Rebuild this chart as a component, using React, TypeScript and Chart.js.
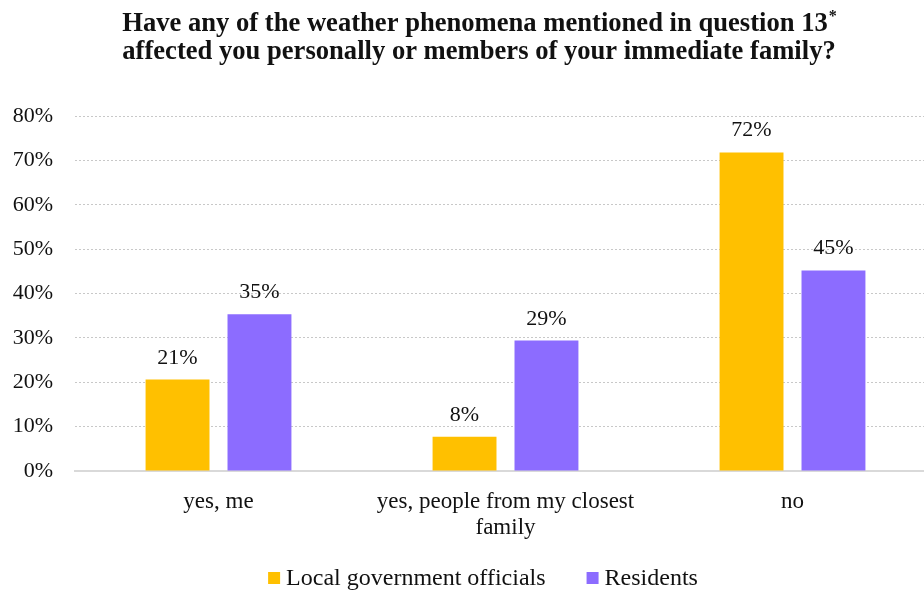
import React, { useEffect, useRef } from "react";
import { Chart, registerables } from "chart.js";
Chart.register(...registerables);

const titleLine1 = "Have any of the weather phenomena mentioned in question 13";
const titleSup = "*";
const titleLine2 = "affected you personally or members of your immediate family?";
const categories = [["yes, me"], ["yes, people from my closest", "family"], ["no"]];
const seriesNames = ["Local government officials", "Residents"];
const officials = [20.6, 7.7, 71.8];
const residents = [35.3, 29.4, 45.2];
const seriesColors = ["#FFC000", "#8C6CFF"];
const yMin = 0;
const yMax = 80;
const yStep = 10;

const FONT = '"Liberation Serif", "Times New Roman", serif';
const TEXT = "#111";

const overlayPlugin = {
  id: "overlay",
  afterDraw(chart: any) {
    const ctx = chart.ctx;
    ctx.save();
    // title
    ctx.fillStyle = TEXT;
    ctx.textBaseline = "alphabetic";
    const tf = `bold 26.6px ${FONT}`;
    const sf = `bold 16px ${FONT}`;
    ctx.font = tf;
    const cx = 479;
    const w1 = ctx.measureText(titleLine1).width;
    ctx.font = sf;
    const ws = ctx.measureText(titleSup).width;
    const x1 = cx - (w1 + ws) / 2;
    ctx.font = tf;
    ctx.textAlign = "left";
    ctx.fillText(titleLine1, x1, 30.5);
    ctx.font = sf;
    ctx.fillText(titleSup, x1 + w1 + 1, 21);
    ctx.font = tf;
    ctx.textAlign = "center";
    ctx.fillText(titleLine2, cx, 58.5);

    // data labels
    ctx.font = `22px ${FONT}`;
    ctx.textAlign = "center";
    chart.data.datasets.forEach((ds: any, di: number) => {
      const meta = chart.getDatasetMeta(di);
      meta.data.forEach((bar: any, i: number) => {
        const v = ds.data[i];
        ctx.fillText(Math.round(v) + "%", bar.x, bar.y - 16);
      });
    });

    // legend
    const box = 12;
    const gapText = 6;
    const gapItem = 41;
    ctx.font = `24px ${FONT}`;
    const widths = chart.data.datasets.map((ds: any) => ctx.measureText(ds.label).width);
    let total = 0;
    widths.forEach((w: number, i: number) => {
      total += box + gapText + w + (i < widths.length - 1 ? gapItem : 0);
    });
    let x = 483 - total / 2;
    const ly = 578;
    ctx.textAlign = "left";
    ctx.textBaseline = "middle";
    chart.data.datasets.forEach((ds: any, i: number) => {
      ctx.fillStyle = ds.backgroundColor;
      ctx.fillRect(x, ly - box / 2, box, box);
      ctx.fillStyle = TEXT;
      ctx.fillText(ds.label, x + box + gapText, ly + 1);
      x += box + gapText + widths[i] + gapItem;
    });
    ctx.restore();
  },
};

export default function App() {
  const ref = useRef<HTMLCanvasElement>(null);
  useEffect(() => {
    if (!ref.current) return;
    const chart = new Chart(ref.current, {
      type: "bar",
      data: {
        labels: categories,
        datasets: [
          { label: seriesNames[0], data: officials, backgroundColor: seriesColors[0] },
          { label: seriesNames[1], data: residents, backgroundColor: seriesColors[1] },
        ],
      },
      options: {
        responsive: false,
        animation: false,
        devicePixelRatio: 1,
        layout: { padding: { top: 116, right: 24, left: 0, bottom: 0 } },
        datasets: { bar: { categoryPercentage: 0.571, barPercentage: 0.78 } },
        plugins: { legend: { display: false }, title: { display: false }, tooltip: { enabled: false } },
        scales: {
          x: {
            grid: { display: false },
            border: { display: true, color: "#d9d9d9", width: 2 },
            ticks: {
              color: TEXT,
              font: { family: FONT, size: 23, lineHeight: 26 / 23 },
              padding: 10,
              maxRotation: 0,
              autoSkip: false,
            },
            afterFit: (s: any) => {
              s.height = 592 - 471;
            },
          },
          y: {
            min: yMin,
            max: yMax,
            border: { display: false, dash: [2, 2] },
            grid: { color: "#c8c8c8", drawTicks: false, lineWidth: 1 },
            ticks: {
              stepSize: yStep,
              color: TEXT,
              padding: 22,
              font: { family: FONT, size: 22 },
              callback: (v: any) => v + "%",
            },
            afterFit: (s: any) => {
              s.width = 75;
            },
          } as any,
        },
      },
      plugins: [overlayPlugin],
    });
    return () => chart.destroy();
  }, []);
  return (
    <div style={{ position: "absolute", left: 0, top: 0, width: 924, height: 592, overflow: "hidden", background: "#fff" }}>
      <canvas ref={ref} width={960} height={592} style={{ display: "block" }} />
    </div>
  );
}
